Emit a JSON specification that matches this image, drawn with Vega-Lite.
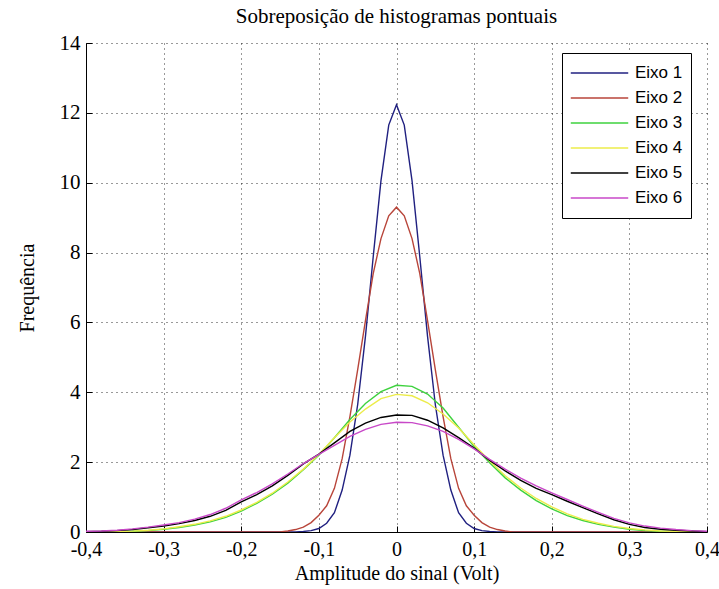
{
  "$schema": "https://vega.github.io/schema/vega-lite/v6.json",
  "width": 621,
  "height": 489,
  "autosize": {"type": "none"},
  "padding": {"left": 86, "top": 43, "right": 12, "bottom": 57},
  "background": "white",
  "title": {"text": "Sobreposição de histogramas pontuais", "font": "Liberation Serif", "fontSize": 21, "fontWeight": "normal", "color": "#000", "offset": 5, "anchor": "middle"},
  "config": {"view": {"stroke": null}},
  "data": {"values": [
    {"s": "Eixo 1", "x": -0.4, "y": 0}, {"s": "Eixo 1", "x": -0.13, "y": 0}, {"s": "Eixo 1", "x": -0.12, "y": 0.015}, {"s": "Eixo 1", "x": -0.11, "y": 0.04}, {"s": "Eixo 1", "x": -0.1, "y": 0.1}, {"s": "Eixo 1", "x": -0.09, "y": 0.25}, {"s": "Eixo 1", "x": -0.08, "y": 0.55}, {"s": "Eixo 1", "x": -0.07, "y": 1.2}, {"s": "Eixo 1", "x": -0.06, "y": 2.2}, {"s": "Eixo 1", "x": -0.05, "y": 3.65}, {"s": "Eixo 1", "x": -0.04, "y": 5.6}, {"s": "Eixo 1", "x": -0.03, "y": 7.88}, {"s": "Eixo 1", "x": -0.02, "y": 10.06}, {"s": "Eixo 1", "x": -0.01, "y": 11.65}, {"s": "Eixo 1", "x": 0, "y": 12.23}, {"s": "Eixo 1", "x": 0.01, "y": 11.65}, {"s": "Eixo 1", "x": 0.02, "y": 10.06}, {"s": "Eixo 1", "x": 0.03, "y": 7.88}, {"s": "Eixo 1", "x": 0.04, "y": 5.6}, {"s": "Eixo 1", "x": 0.05, "y": 3.65}, {"s": "Eixo 1", "x": 0.06, "y": 2.2}, {"s": "Eixo 1", "x": 0.07, "y": 1.2}, {"s": "Eixo 1", "x": 0.08, "y": 0.55}, {"s": "Eixo 1", "x": 0.09, "y": 0.25}, {"s": "Eixo 1", "x": 0.1, "y": 0.1}, {"s": "Eixo 1", "x": 0.11, "y": 0.04}, {"s": "Eixo 1", "x": 0.12, "y": 0.015}, {"s": "Eixo 1", "x": 0.13, "y": 0}, {"s": "Eixo 1", "x": 0.4, "y": 0},

    {"s": "Eixo 2", "x": -0.4, "y": 0}, {"s": "Eixo 2", "x": -0.15, "y": 0}, {"s": "Eixo 2", "x": -0.14, "y": 0.03}, {"s": "Eixo 2", "x": -0.13, "y": 0.07}, {"s": "Eixo 2", "x": -0.12, "y": 0.14}, {"s": "Eixo 2", "x": -0.11, "y": 0.27}, {"s": "Eixo 2", "x": -0.1, "y": 0.48}, {"s": "Eixo 2", "x": -0.09, "y": 0.75}, {"s": "Eixo 2", "x": -0.08, "y": 1.25}, {"s": "Eixo 2", "x": -0.07, "y": 2.1}, {"s": "Eixo 2", "x": -0.06, "y": 3.3}, {"s": "Eixo 2", "x": -0.05, "y": 4.65}, {"s": "Eixo 2", "x": -0.04, "y": 6.05}, {"s": "Eixo 2", "x": -0.03, "y": 7.4}, {"s": "Eixo 2", "x": -0.02, "y": 8.4}, {"s": "Eixo 2", "x": -0.01, "y": 9.05}, {"s": "Eixo 2", "x": 0, "y": 9.3}, {"s": "Eixo 2", "x": 0.01, "y": 9.05}, {"s": "Eixo 2", "x": 0.02, "y": 8.4}, {"s": "Eixo 2", "x": 0.03, "y": 7.4}, {"s": "Eixo 2", "x": 0.04, "y": 6.05}, {"s": "Eixo 2", "x": 0.05, "y": 4.65}, {"s": "Eixo 2", "x": 0.06, "y": 3.3}, {"s": "Eixo 2", "x": 0.07, "y": 2.1}, {"s": "Eixo 2", "x": 0.08, "y": 1.25}, {"s": "Eixo 2", "x": 0.09, "y": 0.75}, {"s": "Eixo 2", "x": 0.1, "y": 0.48}, {"s": "Eixo 2", "x": 0.11, "y": 0.27}, {"s": "Eixo 2", "x": 0.12, "y": 0.14}, {"s": "Eixo 2", "x": 0.13, "y": 0.07}, {"s": "Eixo 2", "x": 0.14, "y": 0.03}, {"s": "Eixo 2", "x": 0.15, "y": 0}, {"s": "Eixo 2", "x": 0.4, "y": 0},

    {"s": "Eixo 3", "x": -0.4, "y": 0}, {"s": "Eixo 3", "x": -0.38, "y": 0.005}, {"s": "Eixo 3", "x": -0.36, "y": 0.01}, {"s": "Eixo 3", "x": -0.34, "y": 0.02}, {"s": "Eixo 3", "x": -0.32, "y": 0.04}, {"s": "Eixo 3", "x": -0.3, "y": 0.08}, {"s": "Eixo 3", "x": -0.28, "y": 0.13}, {"s": "Eixo 3", "x": -0.26, "y": 0.2}, {"s": "Eixo 3", "x": -0.24, "y": 0.29}, {"s": "Eixo 3", "x": -0.22, "y": 0.42}, {"s": "Eixo 3", "x": -0.2, "y": 0.6}, {"s": "Eixo 3", "x": -0.18, "y": 0.82}, {"s": "Eixo 3", "x": -0.16, "y": 1.08}, {"s": "Eixo 3", "x": -0.14, "y": 1.4}, {"s": "Eixo 3", "x": -0.12, "y": 1.78}, {"s": "Eixo 3", "x": -0.1, "y": 2.2}, {"s": "Eixo 3", "x": -0.08, "y": 2.7}, {"s": "Eixo 3", "x": -0.06, "y": 3.22}, {"s": "Eixo 3", "x": -0.04, "y": 3.68}, {"s": "Eixo 3", "x": -0.02, "y": 4.02}, {"s": "Eixo 3", "x": 0, "y": 4.2}, {"s": "Eixo 3", "x": 0.02, "y": 4.17}, {"s": "Eixo 3", "x": 0.04, "y": 3.95}, {"s": "Eixo 3", "x": 0.06, "y": 3.55}, {"s": "Eixo 3", "x": 0.08, "y": 3.0}, {"s": "Eixo 3", "x": 0.1, "y": 2.45}, {"s": "Eixo 3", "x": 0.12, "y": 1.98}, {"s": "Eixo 3", "x": 0.14, "y": 1.55}, {"s": "Eixo 3", "x": 0.16, "y": 1.2}, {"s": "Eixo 3", "x": 0.18, "y": 0.9}, {"s": "Eixo 3", "x": 0.2, "y": 0.66}, {"s": "Eixo 3", "x": 0.22, "y": 0.47}, {"s": "Eixo 3", "x": 0.24, "y": 0.33}, {"s": "Eixo 3", "x": 0.26, "y": 0.22}, {"s": "Eixo 3", "x": 0.28, "y": 0.14}, {"s": "Eixo 3", "x": 0.3, "y": 0.08}, {"s": "Eixo 3", "x": 0.32, "y": 0.04}, {"s": "Eixo 3", "x": 0.34, "y": 0.02}, {"s": "Eixo 3", "x": 0.36, "y": 0.01}, {"s": "Eixo 3", "x": 0.38, "y": 0.005}, {"s": "Eixo 3", "x": 0.4, "y": 0},

    {"s": "Eixo 4", "x": -0.4, "y": 0}, {"s": "Eixo 4", "x": -0.38, "y": 0.005}, {"s": "Eixo 4", "x": -0.36, "y": 0.012}, {"s": "Eixo 4", "x": -0.34, "y": 0.025}, {"s": "Eixo 4", "x": -0.32, "y": 0.05}, {"s": "Eixo 4", "x": -0.3, "y": 0.09}, {"s": "Eixo 4", "x": -0.28, "y": 0.15}, {"s": "Eixo 4", "x": -0.26, "y": 0.22}, {"s": "Eixo 4", "x": -0.24, "y": 0.32}, {"s": "Eixo 4", "x": -0.22, "y": 0.45}, {"s": "Eixo 4", "x": -0.2, "y": 0.63}, {"s": "Eixo 4", "x": -0.18, "y": 0.85}, {"s": "Eixo 4", "x": -0.16, "y": 1.11}, {"s": "Eixo 4", "x": -0.14, "y": 1.43}, {"s": "Eixo 4", "x": -0.12, "y": 1.8}, {"s": "Eixo 4", "x": -0.1, "y": 2.22}, {"s": "Eixo 4", "x": -0.08, "y": 2.7}, {"s": "Eixo 4", "x": -0.06, "y": 3.15}, {"s": "Eixo 4", "x": -0.04, "y": 3.52}, {"s": "Eixo 4", "x": -0.02, "y": 3.82}, {"s": "Eixo 4", "x": 0, "y": 3.94}, {"s": "Eixo 4", "x": 0.02, "y": 3.9}, {"s": "Eixo 4", "x": 0.04, "y": 3.7}, {"s": "Eixo 4", "x": 0.06, "y": 3.38}, {"s": "Eixo 4", "x": 0.08, "y": 2.98}, {"s": "Eixo 4", "x": 0.1, "y": 2.5}, {"s": "Eixo 4", "x": 0.12, "y": 2.03}, {"s": "Eixo 4", "x": 0.14, "y": 1.61}, {"s": "Eixo 4", "x": 0.16, "y": 1.26}, {"s": "Eixo 4", "x": 0.18, "y": 0.96}, {"s": "Eixo 4", "x": 0.2, "y": 0.72}, {"s": "Eixo 4", "x": 0.22, "y": 0.52}, {"s": "Eixo 4", "x": 0.24, "y": 0.36}, {"s": "Eixo 4", "x": 0.26, "y": 0.25}, {"s": "Eixo 4", "x": 0.28, "y": 0.16}, {"s": "Eixo 4", "x": 0.3, "y": 0.1}, {"s": "Eixo 4", "x": 0.32, "y": 0.06}, {"s": "Eixo 4", "x": 0.34, "y": 0.03}, {"s": "Eixo 4", "x": 0.36, "y": 0.015}, {"s": "Eixo 4", "x": 0.38, "y": 0.007}, {"s": "Eixo 4", "x": 0.4, "y": 0},

    {"s": "Eixo 5", "x": -0.4, "y": 0.01}, {"s": "Eixo 5", "x": -0.38, "y": 0.02}, {"s": "Eixo 5", "x": -0.36, "y": 0.04}, {"s": "Eixo 5", "x": -0.34, "y": 0.07}, {"s": "Eixo 5", "x": -0.32, "y": 0.12}, {"s": "Eixo 5", "x": -0.3, "y": 0.17}, {"s": "Eixo 5", "x": -0.28, "y": 0.24}, {"s": "Eixo 5", "x": -0.26, "y": 0.33}, {"s": "Eixo 5", "x": -0.24, "y": 0.45}, {"s": "Eixo 5", "x": -0.22, "y": 0.62}, {"s": "Eixo 5", "x": -0.2, "y": 0.86}, {"s": "Eixo 5", "x": -0.18, "y": 1.07}, {"s": "Eixo 5", "x": -0.16, "y": 1.32}, {"s": "Eixo 5", "x": -0.14, "y": 1.62}, {"s": "Eixo 5", "x": -0.12, "y": 1.95}, {"s": "Eixo 5", "x": -0.1, "y": 2.23}, {"s": "Eixo 5", "x": -0.08, "y": 2.55}, {"s": "Eixo 5", "x": -0.06, "y": 2.88}, {"s": "Eixo 5", "x": -0.04, "y": 3.12}, {"s": "Eixo 5", "x": -0.02, "y": 3.28}, {"s": "Eixo 5", "x": 0, "y": 3.35}, {"s": "Eixo 5", "x": 0.02, "y": 3.34}, {"s": "Eixo 5", "x": 0.04, "y": 3.2}, {"s": "Eixo 5", "x": 0.06, "y": 2.98}, {"s": "Eixo 5", "x": 0.08, "y": 2.7}, {"s": "Eixo 5", "x": 0.1, "y": 2.4}, {"s": "Eixo 5", "x": 0.12, "y": 2.05}, {"s": "Eixo 5", "x": 0.14, "y": 1.75}, {"s": "Eixo 5", "x": 0.16, "y": 1.48}, {"s": "Eixo 5", "x": 0.18, "y": 1.25}, {"s": "Eixo 5", "x": 0.2, "y": 1.07}, {"s": "Eixo 5", "x": 0.22, "y": 0.88}, {"s": "Eixo 5", "x": 0.24, "y": 0.7}, {"s": "Eixo 5", "x": 0.26, "y": 0.52}, {"s": "Eixo 5", "x": 0.28, "y": 0.35}, {"s": "Eixo 5", "x": 0.3, "y": 0.22}, {"s": "Eixo 5", "x": 0.32, "y": 0.13}, {"s": "Eixo 5", "x": 0.34, "y": 0.08}, {"s": "Eixo 5", "x": 0.36, "y": 0.05}, {"s": "Eixo 5", "x": 0.38, "y": 0.03}, {"s": "Eixo 5", "x": 0.4, "y": 0.01},

    {"s": "Eixo 6", "x": -0.4, "y": 0.02}, {"s": "Eixo 6", "x": -0.38, "y": 0.03}, {"s": "Eixo 6", "x": -0.36, "y": 0.05}, {"s": "Eixo 6", "x": -0.34, "y": 0.09}, {"s": "Eixo 6", "x": -0.32, "y": 0.14}, {"s": "Eixo 6", "x": -0.3, "y": 0.2}, {"s": "Eixo 6", "x": -0.28, "y": 0.27}, {"s": "Eixo 6", "x": -0.26, "y": 0.37}, {"s": "Eixo 6", "x": -0.24, "y": 0.5}, {"s": "Eixo 6", "x": -0.22, "y": 0.68}, {"s": "Eixo 6", "x": -0.2, "y": 0.92}, {"s": "Eixo 6", "x": -0.18, "y": 1.13}, {"s": "Eixo 6", "x": -0.16, "y": 1.38}, {"s": "Eixo 6", "x": -0.14, "y": 1.66}, {"s": "Eixo 6", "x": -0.12, "y": 1.96}, {"s": "Eixo 6", "x": -0.1, "y": 2.22}, {"s": "Eixo 6", "x": -0.08, "y": 2.48}, {"s": "Eixo 6", "x": -0.06, "y": 2.74}, {"s": "Eixo 6", "x": -0.04, "y": 2.94}, {"s": "Eixo 6", "x": -0.02, "y": 3.08}, {"s": "Eixo 6", "x": 0, "y": 3.14}, {"s": "Eixo 6", "x": 0.02, "y": 3.13}, {"s": "Eixo 6", "x": 0.04, "y": 3.04}, {"s": "Eixo 6", "x": 0.06, "y": 2.88}, {"s": "Eixo 6", "x": 0.08, "y": 2.65}, {"s": "Eixo 6", "x": 0.1, "y": 2.38}, {"s": "Eixo 6", "x": 0.12, "y": 2.08}, {"s": "Eixo 6", "x": 0.14, "y": 1.8}, {"s": "Eixo 6", "x": 0.16, "y": 1.54}, {"s": "Eixo 6", "x": 0.18, "y": 1.32}, {"s": "Eixo 6", "x": 0.2, "y": 1.12}, {"s": "Eixo 6", "x": 0.22, "y": 0.93}, {"s": "Eixo 6", "x": 0.24, "y": 0.74}, {"s": "Eixo 6", "x": 0.26, "y": 0.56}, {"s": "Eixo 6", "x": 0.28, "y": 0.39}, {"s": "Eixo 6", "x": 0.3, "y": 0.26}, {"s": "Eixo 6", "x": 0.32, "y": 0.17}, {"s": "Eixo 6", "x": 0.34, "y": 0.11}, {"s": "Eixo 6", "x": 0.36, "y": 0.07}, {"s": "Eixo 6", "x": 0.38, "y": 0.04}, {"s": "Eixo 6", "x": 0.4, "y": 0.02}
  ]},
  "mark": {"type": "line", "strokeWidth": 1.4, "clip": true},
  "encoding": {
    "x": {
      "field": "x", "type": "quantitative",
      "scale": {"domain": [-0.4, 0.4], "nice": false, "zero": false},
      "axis": {
        "title": "Amplitude do sinal (Volt)",
        "values": [-0.4, -0.3, -0.2, -0.1, 0, 0.1, 0.2, 0.3, 0.4],
        "labelExpr": "datum.value == 0 ? '0' : (datum.value < 0 ? '-' : '') + '0,' + round(abs(datum.value) * 10)",
        "labelFont": "Liberation Serif", "labelFontSize": 20, "labelColor": "#000", "labelPadding": 13, "labelFlush": false,
        "titleFont": "Liberation Serif", "titleFontSize": 20, "titleFontWeight": "normal", "titleColor": "#000", "titlePadding": 4,
        "domainColor": "#000", "tickColor": "#000", "tickSize": -6,
        "grid": true, "gridColor": "#000", "gridDash": [1, 4], "gridOpacity": 0.8
      }
    },
    "y": {
      "field": "y", "type": "quantitative",
      "scale": {"domain": [0, 14], "nice": false},
      "axis": {
        "title": "Frequência",
        "values": [0, 2, 4, 6, 8, 10, 12, 14],
        "labelFont": "Liberation Serif", "labelFontSize": 21, "labelColor": "#000", "labelPadding": 12, "labelFlush": false,
        "titleFont": "Liberation Serif", "titleFontSize": 20, "titleFontWeight": "normal", "titleColor": "#000", "titlePadding": 22,
        "domainColor": "#000", "tickColor": "#000", "tickSize": -6,
        "grid": true, "gridColor": "#000", "gridDash": [1, 4], "gridOpacity": 0.8
      }
    },
    "color": {
      "field": "s", "type": "nominal",
      "scale": {"domain": ["Eixo 1", "Eixo 2", "Eixo 3", "Eixo 4", "Eixo 5", "Eixo 6"], "range": ["#202080", "#b8453a", "#3ed23e", "#ecec4a", "#000000", "#c848c8"]},
      "legend": {
        "title": null, "orient": "none", "legendX": 476, "legendY": 10,
        "strokeColor": "#000", "fillColor": "#fff", "padding": 8,
        "labelFont": "Liberation Sans", "labelFontSize": 17, "labelColor": "#000", "labelOffset": 6,
        "symbolType": "stroke", "symbolSize": 3300, "symbolStrokeWidth": 1.5, "clipHeight": 24, "rowPadding": 1
      }
    }
  }
}
